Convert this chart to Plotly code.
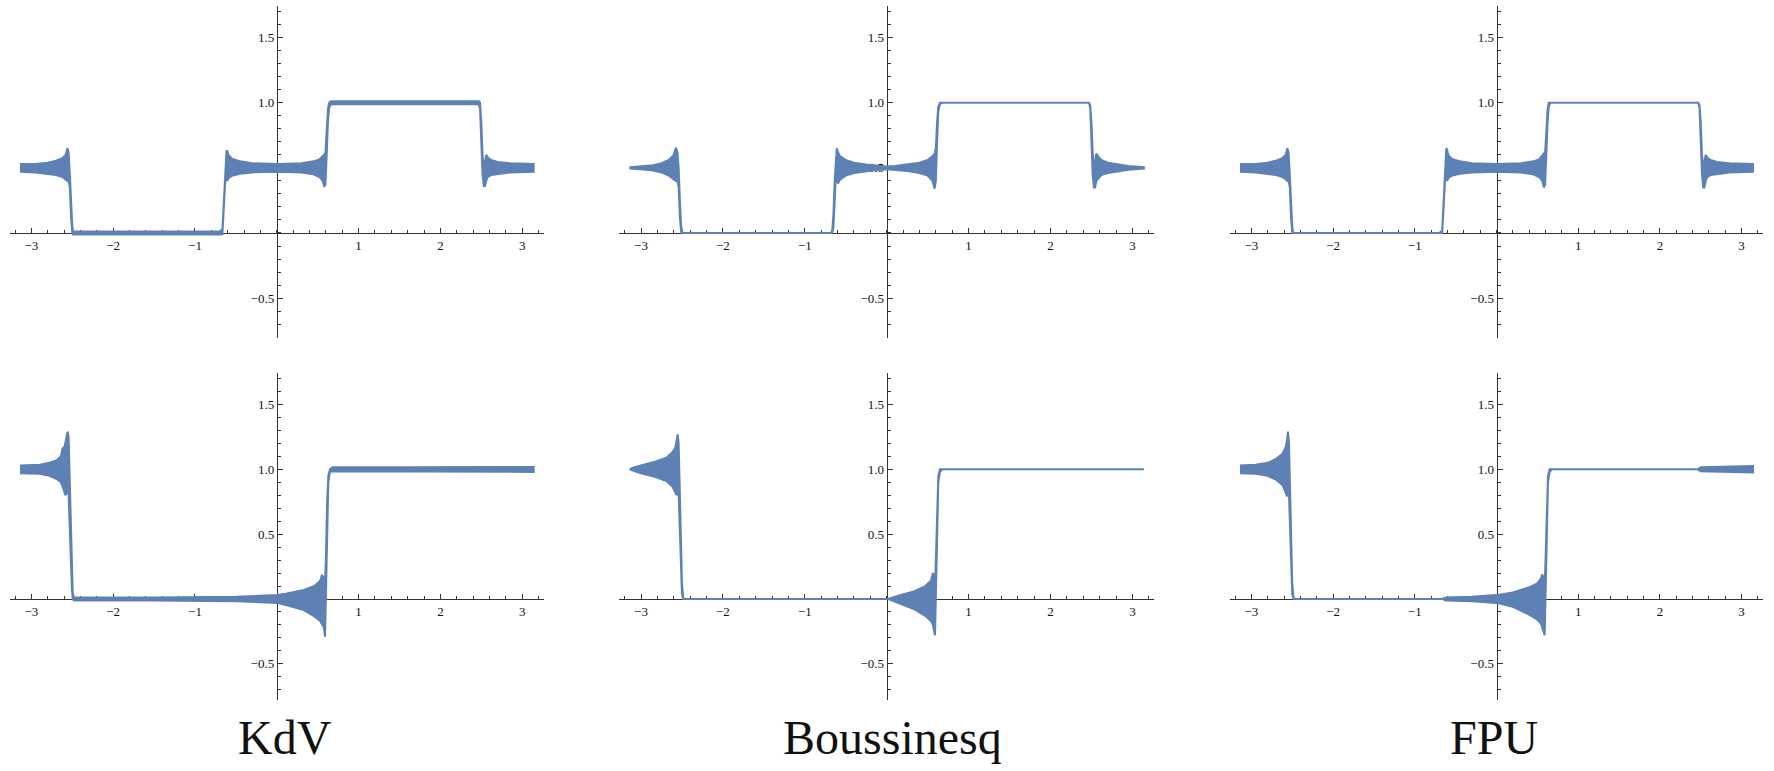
import plotly.graph_objects as go

# ---------------- data ----------------
# Each panel: x positions, upper envelope and lower envelope of the drawn curve
# Top-left: KdV (first time)
X1 = [-3.14, -2.95, -2.8, -2.7, -2.62, -2.58, -2.56, -2.545, -2.53, -2.515, -2.50, -2.49, -2.47, -1.5, -0.70,
      -0.665, -0.655, -0.645, -0.63, -0.615, -0.605, -0.59, -0.55, -0.45, -0.3, 0.0, 0.3, 0.45, 0.52, 0.56,
      0.58, 0.595, 0.61, 0.625, 0.64, 0.66, 0.70, 1.5, 2.47, 2.485, 2.50, 2.515, 2.53, 2.545, 2.56, 2.58,
      2.62, 2.7, 2.85, 3.14]
H1 = [0.53, 0.53, 0.54, 0.555, 0.575, 0.60, 0.65, 0.62, 0.45, 0.20, 0.05, 0.012, 0.012, 0.012, 0.012,
      0.03, 0.15, 0.35, 0.55, 0.63, 0.63, 0.60, 0.57, 0.55, 0.535, 0.53, 0.535, 0.55, 0.565, 0.59,
      0.60, 0.62, 0.80, 0.95, 1.0, 1.012, 1.012, 1.012, 1.012, 1.0, 0.85, 0.60, 0.50, 0.55, 0.60, 0.58,
      0.56, 0.545, 0.535, 0.53]
L1 = [0.47, 0.465, 0.455, 0.445, 0.43, 0.41, 0.40, 0.40, 0.35, 0.12, 0.0, -0.012, -0.012, -0.012, -0.012,
      -0.01, 0.05, 0.20, 0.40, 0.42, 0.40, 0.42, 0.44, 0.455, 0.465, 0.47, 0.465, 0.45, 0.43, 0.40,
      0.36, 0.37, 0.60, 0.85, 0.96, 0.988, 0.988, 0.988, 0.988, 0.95, 0.70, 0.45, 0.36, 0.36, 0.40, 0.43,
      0.445, 0.455, 0.465, 0.47]

# Top-middle: Boussinesq (first time)
X2 = [-3.14, -3.0, -2.85, -2.75, -2.66, -2.6, -2.575, -2.555, -2.54, -2.525, -2.51, -2.495, -2.48, -1.5,
      -0.68, -0.665, -0.65, -0.635, -0.62, -0.61, -0.595, -0.57, -0.5, -0.4, -0.25, -0.1, 0.0, 0.1, 0.25,
      0.4, 0.5, 0.56, 0.585, 0.60, 0.615, 0.63, 0.65, 0.68, 1.5, 2.47, 2.485, 2.50, 2.515, 2.53, 2.545,
      2.56, 2.58, 2.62, 2.7, 2.8, 2.95, 3.14]
H2 = [0.505, 0.51, 0.52, 0.535, 0.56, 0.60, 0.655, 0.62, 0.50, 0.25, 0.06, 0.005, 0.0, 0.0,
      0.0, 0.02, 0.15, 0.40, 0.60, 0.65, 0.62, 0.59, 0.56, 0.54, 0.525, 0.515, 0.51, 0.515, 0.525,
      0.54, 0.56, 0.59, 0.61, 0.65, 0.85, 0.97, 1.0, 1.0, 1.0, 1.0, 0.98, 0.85, 0.62, 0.50, 0.55,
      0.61, 0.59, 0.56, 0.54, 0.53, 0.515, 0.505]
L2 = [0.495, 0.49, 0.48, 0.465, 0.44, 0.41, 0.40, 0.40, 0.35, 0.12, 0.01, 0.0, 0.0, 0.0,
      0.0, 0.0, 0.05, 0.25, 0.45, 0.42, 0.38, 0.41, 0.44, 0.46, 0.475, 0.485, 0.49, 0.485, 0.475,
      0.46, 0.44, 0.40, 0.34, 0.40, 0.70, 0.93, 0.99, 1.0, 1.0, 1.0, 0.96, 0.72, 0.45, 0.35, 0.35,
      0.40, 0.42, 0.445, 0.46, 0.47, 0.485, 0.495]

# Top-right: FPU (first time)
X3 = X1
H3 = [0.53, 0.53, 0.54, 0.555, 0.575, 0.60, 0.65, 0.62, 0.45, 0.20, 0.05, 0.005, 0.0, 0.0, 0.0,
      0.02, 0.15, 0.35, 0.55, 0.65, 0.64, 0.60, 0.57, 0.55, 0.535, 0.53, 0.535, 0.55, 0.565, 0.59,
      0.61, 0.62, 0.80, 0.95, 1.0, 1.0, 1.0, 1.0, 1.0, 0.98, 0.85, 0.60, 0.50, 0.55, 0.60, 0.58,
      0.56, 0.545, 0.535, 0.53]
L3 = [0.47, 0.465, 0.455, 0.445, 0.43, 0.41, 0.40, 0.40, 0.35, 0.12, 0.0, 0.0, 0.0, 0.0, 0.0,
      0.0, 0.05, 0.20, 0.40, 0.42, 0.40, 0.42, 0.44, 0.455, 0.465, 0.47, 0.465, 0.45, 0.43, 0.40,
      0.35, 0.37, 0.60, 0.85, 0.97, 1.0, 1.0, 1.0, 1.0, 0.96, 0.70, 0.45, 0.35, 0.35, 0.40, 0.43,
      0.445, 0.455, 0.465, 0.47]

# Bottom-left: KdV (second time)
X4 = [-3.14, -2.9, -2.78, -2.69, -2.64, -2.62, -2.60, -2.585, -2.565, -2.556, -2.545, -2.535, -2.52,
      -2.505, -2.495, -2.48, -1.5, -0.5, 0.0, 0.11, 0.33, 0.46, 0.53, 0.55, 0.575, 0.59, 0.60, 0.615,
      0.63, 0.65, 0.68, 1.5, 3.14]
H4 = [1.03, 1.035, 1.05, 1.07, 1.10, 1.16, 1.17, 1.20, 1.27, 1.29, 1.25, 1.0, 0.6,
      0.2, 0.05, 0.012, 0.012, 0.018, 0.03, 0.04, 0.07, 0.10, 0.14, 0.18, 0.17, 0.15, 0.30, 0.75,
      0.95, 1.0, 1.015, 1.015, 1.018]
L4 = [0.97, 0.965, 0.95, 0.925, 0.90, 0.87, 0.84, 0.80, 0.82, 0.85, 0.80, 0.70, 0.35,
      0.08, 0.0, -0.012, -0.012, -0.018, -0.03, -0.046, -0.085, -0.135, -0.17, -0.19, -0.22, -0.29, -0.15, 0.45,
      0.90, 0.985, 0.985, 0.985, 0.98]

# Bottom-middle: Boussinesq (second time)
X5 = [-3.14, -3.10, -3.0, -2.82, -2.69, -2.62, -2.58, -2.565, -2.552, -2.54, -2.53, -2.515, -2.50,
      -2.485, -2.47, 0.02, 0.11, 0.34, 0.47, 0.54, 0.565, 0.58, 0.59, 0.60, 0.615, 0.63, 0.65, 0.68, 3.14]
H5 = [1.0, 1.012, 1.03, 1.06, 1.09, 1.13, 1.17, 1.22, 1.27, 1.20, 0.95, 0.50, 0.12,
      0.01, 0.0, 0.0, 0.02, 0.06, 0.10, 0.14, 0.20, 0.16, 0.12, 0.30, 0.75, 0.95, 1.0, 1.0, 1.0]
L5 = [1.0, 0.988, 0.97, 0.94, 0.91, 0.87, 0.82, 0.80, 0.85, 0.80, 0.70, 0.30, 0.04,
      0.0, 0.0, 0.0, -0.02, -0.08, -0.13, -0.17, -0.20, -0.25, -0.28, -0.15, 0.45, 0.90, 0.98, 1.0, 1.0]

# Bottom-right: FPU (second time)
X6 = [-3.14, -2.95, -2.80, -2.70, -2.62, -2.58, -2.565, -2.552, -2.54, -2.53, -2.515, -2.50, -2.485,
      -2.47, -0.66, -0.62, -0.3, 0.0, 0.2, 0.40, 0.50, 0.545, 0.56, 0.575, 0.59, 0.60, 0.615, 0.63,
      0.65, 0.68, 2.46, 2.5, 2.8, 3.14]
H6 = [1.03, 1.035, 1.05, 1.08, 1.12, 1.17, 1.22, 1.29, 1.20, 0.95, 0.50, 0.12, 0.01,
      0.0, 0.0, 0.012, 0.018, 0.03, 0.05, 0.09, 0.12, 0.16, 0.19, 0.16, 0.12, 0.30, 0.75, 0.95,
      1.0, 1.0, 1.0, 1.015, 1.02, 1.025]
L6 = [0.97, 0.965, 0.95, 0.92, 0.88, 0.82, 0.79, 0.84, 0.80, 0.70, 0.30, 0.04, 0.0,
      0.0, 0.0, -0.012, -0.018, -0.03, -0.06, -0.12, -0.16, -0.19, -0.21, -0.25, -0.28, -0.15, 0.45, 0.90,
      0.98, 1.0, 1.0, 0.985, 0.98, 0.975]

PANELS = [(X1, H1, L1), (X2, H2, L2), (X3, H3, L3), (X4, H4, L4), (X5, H5, L5), (X6, H6, L6)]
TITLES = ["KdV", "Boussinesq", "FPU"]

X_TICKS = [-3, -2, -1, 1, 2, 3]
X_TICK_TEXT = ["\u22123", "\u22122", "\u22121", "1", "2", "3"]
Y_TICKS = [-0.5, 0.5, 1.0, 1.5]
Y_TICK_TEXT = ["\u22120.5", "0.5", "1.0", "1.5"]

# ---------------- layout / styling ----------------
W, H = 1774, 771
COLOR = "#5E81B5"
AXIS_COLOR = "#333333"
FONT = "Liberation Serif, Times New Roman, serif"

X_RANGE = [-3.267, 3.267]
COL_ORIGIN_PX = [276.8, 886.7, 1496.5]
COL_UNIT_PX = [81.8, 81.9, 81.7]
ROW_Y_RANGE = [[-0.802, 1.742], [-0.775, 1.745]]
ROW_ORIGIN_PX = [233.0, 599.0]
ROW_UNIT_PX = [130.3, 129.7]
TITLE_X_PX = [285, 893, 1494]
TITLE_Y_PX = 737

fig = go.Figure()
layout = dict(
    width=W, height=H,
    margin=dict(l=0, r=0, t=0, b=0),
    paper_bgcolor="white", plot_bgcolor="white",
    showlegend=False,
)

for i, (xs, hi, lo) in enumerate(PANELS):
    row, col = divmod(i, 3)
    k = "" if i == 0 else str(i + 1)
    fig.add_trace(go.Scatter(
        x=list(xs) + list(xs)[::-1],
        y=list(hi) + list(lo)[::-1],
        mode="lines", fill="toself", fillcolor=COLOR,
        line=dict(color=COLOR, width=2),
        hoverinfo="skip",
        xaxis="x" + k, yaxis="y" + k,
    ))

    ox, ux = COL_ORIGIN_PX[col], COL_UNIT_PX[col]
    x0px = ox + X_RANGE[0] * ux
    x1px = ox + X_RANGE[1] * ux
    xdom = [x0px / W, x1px / W]
    yr = ROW_Y_RANGE[row]
    oy, uy = ROW_ORIGIN_PX[row], ROW_UNIT_PX[row]
    ytop = oy - yr[1] * uy
    ybot = oy - yr[0] * uy
    ydom = [1 - ybot / H, 1 - ytop / H]
    # axes cross at the origin
    xpos = ydom[0] + (0 - yr[0]) / (yr[1] - yr[0]) * (ydom[1] - ydom[0])
    ypos = xdom[0] + (0 - X_RANGE[0]) / (X_RANGE[1] - X_RANGE[0]) * (xdom[1] - xdom[0])

    common = dict(
        showgrid=False, zeroline=False, showline=True, linecolor=AXIS_COLOR, linewidth=1,
        ticks="inside", ticklen=5, tickwidth=1, tickcolor=AXIS_COLOR,
        tickfont=dict(family=FONT, size=13, color="#111111"),
        fixedrange=True, layer="below traces", anchor="free",
    )
    layout["xaxis" + k] = dict(
        common, domain=xdom, range=X_RANGE, position=xpos, side="bottom",
        tickmode="array", tickvals=X_TICKS, ticktext=X_TICK_TEXT,
        minor=dict(tickmode="linear", tick0=0, dtick=0.2, ticks="inside", ticklen=3,
                   tickwidth=1, tickcolor=AXIS_COLOR),
    )
    layout["yaxis" + k] = dict(
        common, domain=ydom, range=yr, position=ypos, side="left",
        tickmode="array", tickvals=Y_TICKS, ticktext=Y_TICK_TEXT,
        minor=dict(tickmode="linear", tick0=0, dtick=0.1, ticks="inside", ticklen=3,
                   tickwidth=1, tickcolor=AXIS_COLOR),
    )

annotations = []
for t, xp in zip(TITLES, TITLE_X_PX):
    annotations.append(dict(
        text=t, x=xp / W, y=1 - TITLE_Y_PX / H, xref="paper", yref="paper",
        xanchor="center", yanchor="middle", showarrow=False,
        font=dict(family=FONT, size=48, color="#111111"),
    ))
layout["annotations"] = annotations

fig.update_layout(**layout)
fig.write_html(
    "out.html",
    config={"displayModeBar": False},
    post_script="document.body.style.margin='0';document.body.style.padding='0';",
)
